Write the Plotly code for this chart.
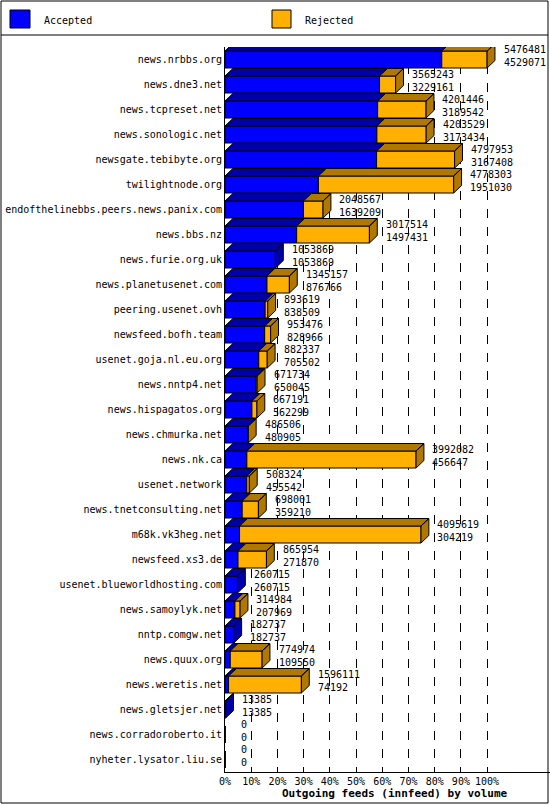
import plotly.graph_objects as go

hosts = [
    "news.nrbbs.org", "news.dne3.net", "news.tcpreset.net", "news.sonologic.net",
    "newsgate.tebibyte.org", "twilightnode.org", "endofthelinebbs.peers.news.panix.com",
    "news.bbs.nz", "news.furie.org.uk", "news.planetusenet.com", "peering.usenet.ovh",
    "newsfeed.bofh.team", "usenet.goja.nl.eu.org", "news.nntp4.net", "news.hispagatos.org",
    "news.chmurka.net", "news.nk.ca", "usenet.network", "news.tnetconsulting.net",
    "m68k.vk3heg.net", "newsfeed.xs3.de", "usenet.blueworldhosting.com",
    "news.samoylyk.net", "nntp.comgw.net", "news.quux.org", "news.weretis.net",
    "news.gletsjer.net", "news.corradoroberto.it", "nyheter.lysator.liu.se",
]
offered = [5476481, 3565243, 4201446, 4203529, 4797953, 4778303, 2048567, 3017514,
           1053869, 1345157, 893619, 953476, 882337, 671734, 667191, 486506, 3992082,
           508324, 698001, 4095619, 865954, 260715, 314984, 182737, 774974, 1596111,
           13385, 0, 0]
accepted = [4529071, 3229161, 3189542, 3173434, 3167408, 1951030, 1639209, 1497431,
            1053869, 876766, 838509, 828966, 705502, 650045, 562299, 480905, 456647,
            455542, 359210, 304219, 271870, 260715, 207969, 182737, 109550, 74192,
            13385, 0, 0]

vmax = max(offered)
acc_pct = [a / vmax * 100 for a in accepted]
tot_pct = [o / vmax * 100 for o in offered]
rej_pct = [t - a for t, a in zip(tot_pct, acc_pct)]
ys = list(range(len(hosts)))

BLUE, BLUE_D = "#0000ff", "#0000a8"
ORANGE, ORANGE_D = "#ffb000", "#b07800"
MONO = "DejaVu Sans Mono"
h = 0.34      # half bar height
dx, dy = 3.0, -0.3   # 3d depth (y axis reversed, so up is negative)

fig = go.Figure()
fig.add_bar(y=ys, x=acc_pct, orientation="h", width=2 * h, cliponaxis=False,
            marker=dict(color=BLUE, line=dict(color="black", width=1)))
fig.add_bar(y=ys, x=rej_pct, base=acc_pct, orientation="h", width=2 * h, cliponaxis=False,
            marker=dict(color=ORANGE, line=dict(color="black", width=1)))

# 3d faces
def faces(segs, color):
    px_, py_ = [], []
    for x0, x1, y, side in segs:
        top = y - h
        px_ += [x0, x1, x1 + dx, x0 + dx, x0, None]
        py_ += [top, top, top + dy, top + dy, top, None]
        if side:
            px_ += [x1, x1 + dx, x1 + dx, x1, x1, None]
            py_ += [top, top + dy, y + h + dy, y + h, top, None]
    fig.add_scatter(x=px_, y=py_, mode="lines", fill="toself", fillcolor=color, cliponaxis=False,
                    line=dict(color="black", width=1), hoverinfo="skip")

blue_segs, orange_segs = [], []
for y, a, t in zip(ys, acc_pct, tot_pct):
    if t <= 0:
        continue
    blue_segs.append((0, a, y, t - a < 1e-9))
    if t - a > 1e-9:
        orange_segs.append((a, t, y, True))
faces(blue_segs, BLUE_D)
faces(orange_segs, ORANGE_D)

for y, o, a, t in zip(ys, offered, accepted, tot_pct):
    fig.add_annotation(x=t + dx + 2.5, y=y - 0.15, text=f"{o}<br>{a}", showarrow=False,
                       xanchor="left", yanchor="middle", align="left",
                       font=dict(family=MONO, size=10, color="black"))

W, H = 550, 805
L, R, T, B = 225, 0, 47, 33
pw, ph = W - L - R, H - T - B
def px(x): return (x - L) / pw
def py(y): return 1 - (y - T) / ph

shapes = [
    dict(type="rect", xref="paper", yref="paper", x0=px(1), x1=px(548), y0=py(1), y1=py(803),
         line=dict(color="black", width=1)),
    dict(type="line", xref="paper", yref="paper", x0=px(1), x1=px(548), y0=py(35), y1=py(35),
         line=dict(color="black", width=1)),
    dict(type="rect", xref="paper", yref="paper", x0=px(10), x1=px(30), y0=py(10), y1=py(28),
         fillcolor=BLUE, line=dict(color="black", width=1)),
    dict(type="rect", xref="paper", yref="paper", x0=px(272), x1=px(291), y0=py(10), y1=py(28),
         fillcolor=ORANGE, line=dict(color="black", width=1)),
]
ann = [
    dict(text="Accepted", x=px(42), y=py(20)),
    dict(text="Rejected", x=px(303), y=py(20)),
]
for a in ann:
    fig.add_annotation(xref="paper", yref="paper", showarrow=False, xanchor="left",
                       yanchor="middle", font=dict(family=MONO, size=10, color="black"), **a)
fig.add_annotation(xref="paper", yref="paper", x=px(280), y=py(785), showarrow=False,
                   yanchor="top", text="<b>Outgoing feeds (innfeed) by volume</b>",
                   font=dict(family=MONO, size=11, color="black"))

fig.update_layout(
    width=W, height=H, margin=dict(l=L, r=R, t=T, b=B, autoexpand=False),
    paper_bgcolor="white", plot_bgcolor="white", showlegend=False,
    barmode="overlay", shapes=shapes,
    xaxis=dict(range=[0, 124], tickvals=list(range(0, 101, 10)), automargin=False,
               ticktext=[f"{v}%" for v in range(0, 101, 10)],
               showgrid=True, gridcolor="black", griddash="dash", gridwidth=1,
               showline=True, linecolor="black", zeroline=False, ticks="", ticklabelstandoff=0,
               tickfont=dict(family=MONO, size=10, color="black")),
    yaxis=dict(range=[len(hosts) - 0.5, -0.5], tickvals=ys, ticktext=hosts, automargin=False,
               showgrid=False, showline=True, linecolor="black", zeroline=False,
               tickfont=dict(family=MONO, size=10, color="black")),
)

fig.write_html("out.html", config={"displayModeBar": False},
               post_script="document.body.style.margin='0';")
